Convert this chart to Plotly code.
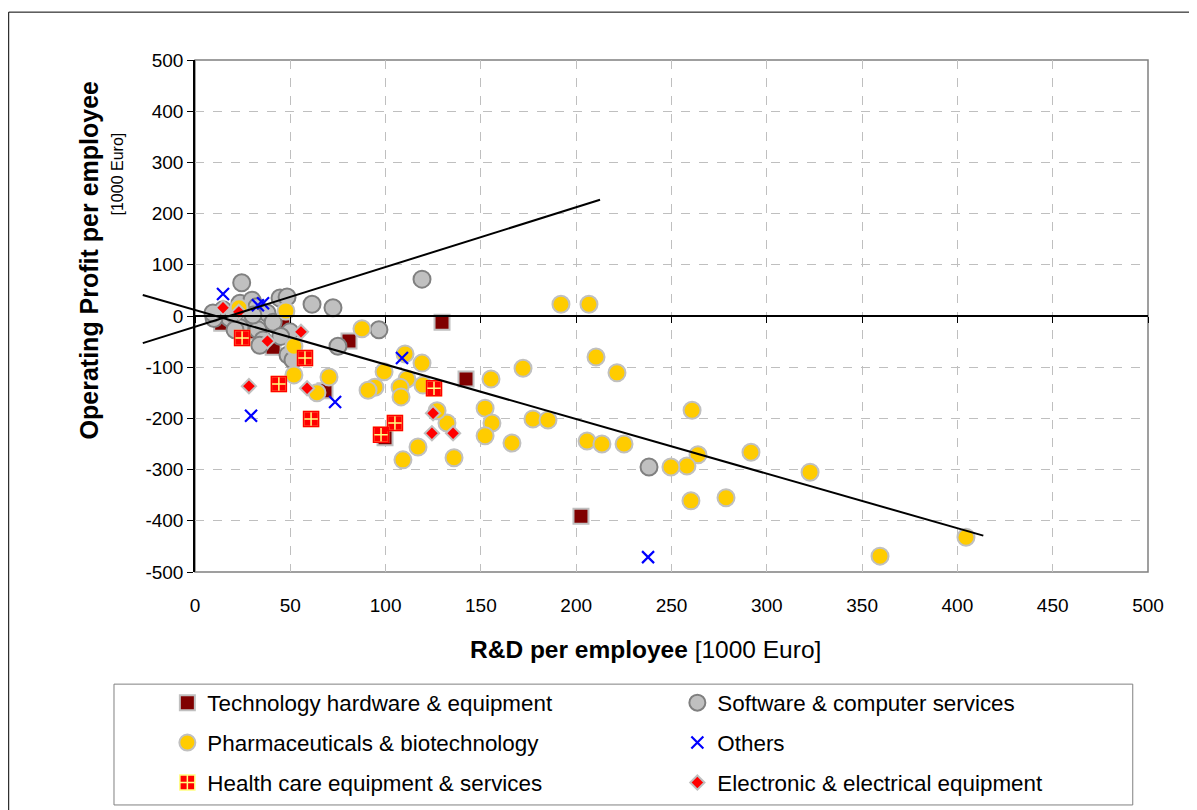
import plotly.graph_objects as go

FONT = "Arial, Liberation Sans, sans-serif"

# ---------------- data (R&D per employee, Operating profit per employee) ----------------
tech_x = [129.6, 142.2, 80.8, 202.5, 99.7, 68.2, 41.0, 46.0, 14.0, 30.0]
tech_y = [-12, -123, -49, -391, -238, -146, -61, -21, -14, -31]

soft_x = [24.5, 14.7, 12.0, 18.0, 23.6, 29.9, 32.5, 27.8, 33.0, 37.8, 41.0, 35.7, 34.0, 44.6,
          48.3, 49.8, 48.8, 51.4, 61.4, 72.4, 75.0, 96.5, 23.6, 30.4, 21.0, 119.1, 238.2,
          45.0, 20.0, 10.0, 9.4]
soft_y = [65, 12, 2, -4, 25, 31, 18, -14, -27, 6, -12, -47, -57, 35,
          37, -31, -76, -86, 23, 16, -59, -27, -23, 2, -27, 72, -295,
          -40, 5, -5, 6]

pharma_x = [192.0, 206.7, 210.4, 221.4, 260.8, 263.9, 258.1, 249.7, 260.2, 278.6, 291.7, 322.7,
            359.4, 404.5, 205.7, 213.5, 225.1, 172.1, 155.3, 152.2, 155.8, 152.2, 166.3, 177.3,
            185.2, 135.9, 132.2, 117.0, 109.1, 110.2, 119.1, 111.2, 119.6, 107.6, 108.1, 99.2,
            94.4, 90.8, 87.6, 70.3, 64.0, 47.7, 51.9, 51.9, 23.1, 127.0]
pharma_y = [23, 23, -80, -111, -184, -271, -293, -295, -361, -355, -266, -305,
            -469, -432, -244, -250, -250, -102, -123, -180, -209, -234, -248, -201,
            -203, -277, -209, -256, -281, -74, -92, -123, -135, -139, -158, -109,
            -139, -145, -25, -119, -150, 10, -59, -115, 16, -185]

others_x = [14.7, 33.0, 35.7, 29.4, 73.5, 108.6, 237.7]
others_y = [43, 21, 25, -195, -168, -82, -471]

health_x = [24.7, 44.0, 57.7, 60.9, 104.9, 97.6, 125.4]
health_y = [-43, -133, -82, -201, -209, -232, -141]

elec_x = [14.7, 23.0, 38.0, 55.6, 28.3, 58.8, 124.9, 124.3, 135.4]
elec_y = [16, 8, -49, -31, -137, -141, -190, -229, -229]

# trend lines (end points)
trend_up_x = [-27.4, 212.5]
trend_up_y = [-53, 227]
trend_down_x = [-27.4, 413.6]
trend_down_y = [41, -429]

X_RANGE = [0, 500]
Y_RANGE = [-500, 500]
y_tick_vals = [500, 400, 300, 200, 100, 0, -100, -200, -300, -400, -500]
y_tick_text = ["500", "400", "300", "200", "100", "0", "-100", "-200", "-300", "-400", "-500"]

fig = go.Figure()

def add(name, x, y, symbol, size, color, lcolor, lwidth, legend, showlegend=True):
    fig.add_trace(go.Scatter(
        x=x, y=y, mode="markers", name=name, legend=legend, showlegend=showlegend,
        marker=dict(symbol=symbol, size=size, color=color,
                    line=dict(color=lcolor, width=lwidth)),
        cliponaxis=False))

add("Technology hardware &amp; equipment", tech_x, tech_y, "square", 15, "#800000", "#C0C0C0", 2, "legend")
add("Software &amp; computer services", soft_x, soft_y, "circle", 17, "#C0C0C0", "#808080", 2, "legend")
add("Pharmaceuticals &amp; biotechnology", pharma_x, pharma_y, "circle", 17, "#FFCC00", "#C0C0C0", 2, "legend2")
add("Others", others_x, others_y, "x-thin", 12, "#0000FF", "#0000FF", 2.2, "legend2")
add("Health care equipment &amp; services", health_x, health_y, "square-cross", 15, "#FF0000", "#FFFF80", 1.5, "legend3")
fig.add_trace(go.Scatter(x=health_x, y=health_y, mode="markers", showlegend=False, hoverinfo="skip",
                         marker=dict(symbol="square-open", size=15, color="#FF0000",
                                     line=dict(color="#FF0000", width=1.5)), cliponaxis=False))
add("Electronic &amp; electrical equipment", elec_x, elec_y, "diamond", 11, "#FF0000", "#C0C0C0", 2, "legend3")

# dummy trace for the zero axis overlay
fig.add_trace(go.Scatter(x=[None], y=[None], xaxis="x2", showlegend=False, hoverinfo="skip"))


def dx(v):
    return (v - X_RANGE[0]) / (X_RANGE[1] - X_RANGE[0])


def dy(v):
    return (v - Y_RANGE[0]) / (Y_RANGE[1] - Y_RANGE[0])


shapes = []
for tx, ty in ((trend_up_x, trend_up_y), (trend_down_x, trend_down_y)):
    shapes.append(dict(type="line", xref="x domain", yref="y domain",
                       x0=dx(tx[0]), y0=dy(ty[0]), x1=dx(tx[1]), y1=dy(ty[1]),
                       line=dict(color="black", width=2), layer="above"))
# plot-area frame
shapes.append(dict(type="rect", xref="paper", yref="paper", x0=0, y0=0, x1=1, y1=1,
                   line=dict(color="#808080", width=1.5), layer="below"))
# legend box
shapes.append(dict(type="rect", xref="paper", yref="paper", x0=-0.085, x1=0.984, y0=-0.455, y1=-0.219,
                   line=dict(color="#808080", width=1)))
# outer chart border
shapes.append(dict(type="rect", xref="paper", yref="paper", x0=-0.1955, x1=1.08, y0=-0.6, y1=1.0935,
                   line=dict(color="black", width=1)))

leg_common = dict(orientation="h", xanchor="left", yanchor="middle", entrywidth=465,
                  entrywidthmode="pixels", bgcolor="rgba(0,0,0,0)", borderwidth=0,
                  font=dict(family=FONT, size=22.4, color="black"), itemsizing="trace",
                  tracegroupgap=0)

fig.update_layout(
    width=1197, height=810,
    margin=dict(l=187, r=57, t=52, b=246, autoexpand=False),
    paper_bgcolor="white", plot_bgcolor="white",
    font=dict(family=FONT, color="black"),
    xaxis=dict(range=X_RANGE, dtick=50, tick0=0, showgrid=True, gridcolor="#BFBFBF",
               griddash="dash", gridwidth=1, zeroline=False, showline=False, ticks="",
               ticklabelstandoff=20, tickfont=dict(size=19, family=FONT)),
    xaxis2=dict(range=X_RANGE, dtick=50, tick0=0, overlaying="x", anchor="free", position=0.5,
                side="bottom", showgrid=False, zeroline=False, showline=True, linecolor="black",
                linewidth=1.5, ticks="outside", ticklen=6, tickcolor="black", showticklabels=False),
    yaxis=dict(range=Y_RANGE, tickmode="array", tickvals=y_tick_vals, ticktext=y_tick_text,
               showgrid=True, gridcolor="#BFBFBF",
               griddash="dash", gridwidth=1, zeroline=False, showline=True, linecolor="black",
               linewidth=1.5, ticks="outside", ticklen=6, tickcolor="black",
               ticklabelstandoff=0, tickfont=dict(size=19, family=FONT)),
    legend=dict(x=-0.029, y=-0.256, **leg_common),
    legend2=dict(x=-0.029, y=-0.334, **leg_common),
    legend3=dict(x=-0.029, y=-0.412, **leg_common),
    shapes=shapes,
    annotations=[
        dict(text="<b>R&amp;D per employee</b> [1000 Euro]", xref="paper", yref="paper",
             x=0.473, y=-0.152, showarrow=False, font=dict(size=24.5, family=FONT),
             xanchor="center", yanchor="middle"),
        dict(text="<b>Operating Profit per employee</b>", xref="paper", yref="paper",
             x=-0.111, y=0.609, showarrow=False, textangle=-90, font=dict(size=25, family=FONT),
             xanchor="center", yanchor="middle"),
        dict(text="[1000 Euro]", xref="paper", yref="paper",
             x=-0.081, y=0.778, showarrow=False, textangle=-90, font=dict(size=16, family=FONT),
             xanchor="center", yanchor="middle"),
    ],
)

fig.write_html("out.html")
